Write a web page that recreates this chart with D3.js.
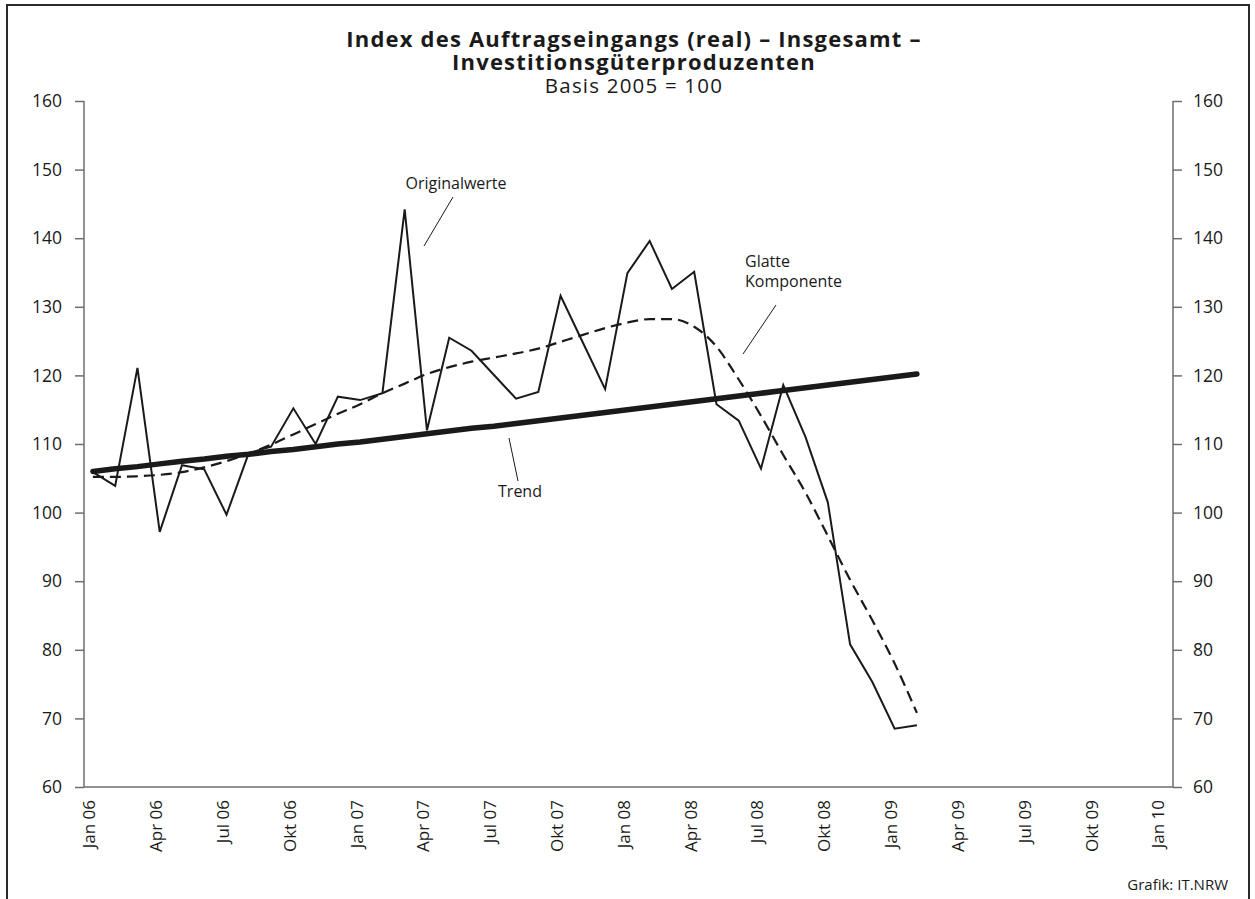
<!DOCTYPE html>
<html>
<head>
<meta charset="utf-8">
<script src="https://cdn.jsdelivr.net/npm/d3@7"></script>
<style>
  body { margin: 0; background: #fff; }
  text { font-family: "Open Sans", "Noto Sans", sans-serif; fill: #1a1a1a; }
  .axis path, .axis line { stroke: #6e6e6e; stroke-width: 1.5; }
</style>
</head>
<body>
<svg width="1255" height="899"></svg>
<script>
// month index 0 = Jan 06 ... 37 = Feb 09
const months = ["Jan 06","Feb 06","Mrz 06","Apr 06","Mai 06","Jun 06","Jul 06","Aug 06","Sep 06","Okt 06","Nov 06","Dez 06",
                "Jan 07","Feb 07","Mrz 07","Apr 07","Mai 07","Jun 07","Jul 07","Aug 07","Sep 07","Okt 07","Nov 07","Dez 07",
                "Jan 08","Feb 08","Mrz 08","Apr 08","Mai 08","Jun 08","Jul 08","Aug 08","Sep 08","Okt 08","Nov 08","Dez 08",
                "Jan 09","Feb 09"]

const originalwerte = [105.9,103.9,121.1,97.2,106.9,106.3,99.7,108.7,109.6,115.2,110.0,116.9,
                       116.4,117.4,144.2,112.0,125.5,123.6,120.1,116.6,117.6,131.6,124.8,118.0,
                       134.9,139.6,132.6,135.1,115.8,113.4,106.4,118.6,111.0,101.5,80.8,75.3,
                       68.5,69.0]

const glatteKomponente = [105.2,105.2,105.3,105.5,105.9,106.6,107.5,108.6,109.9,111.4,112.9,114.4,
                          115.8,117.4,118.8,120.2,121.2,122.0,122.6,123.2,123.9,124.9,125.9,126.9,
                          127.7,128.2,128.2,127.1,124.2,119.4,114.1,108.4,102.9,96.6,90.2,84.3,
                          78.0,70.8]

const trend = [106.0,106.4,106.7,107.1,107.5,107.8,108.2,108.5,108.9,109.2,109.6,110.0,
               110.3,110.7,111.1,111.5,111.9,112.3,112.6,113.0,113.4,113.8,114.2,114.6,
               115.0,115.4,115.8,116.2,116.6,117.0,117.4,117.8,118.2,118.6,119.0,119.4,
               119.8,120.2]

// quarterly tick labels, every 3 months from Jan 06 to Jan 10
const tickLabels = ["Jan 06","Apr 06","Jul 06","Okt 06","Jan 07","Apr 07","Jul 07","Okt 07",
                    "Jan 08","Apr 08","Jul 08","Okt 08","Jan 09","Apr 09","Jul 09","Okt 09","Jan 10"]
const yTicks = [60,70,80,90,100,110,120,130,140,150,160]

const svg = d3.select("svg")

const x = d3.scaleLinear().domain([-0.4, 48.5]).range([84, 1173]),
      y = d3.scaleLinear().domain([60, 160]).range([787, 101])

// outer frame
svg.append("rect").attr("x", 7).attr("y", 5).attr("width", 1242).attr("height", 920)
  .style("fill", "none").style("stroke", "#2a2a2a").style("stroke-width", 2)

// titles
svg.append("text").attr("x", 634).attr("y", 47).attr("text-anchor", "middle")
  .style("font-size", "22px").style("font-weight", "bold").style("letter-spacing", "1.2px")
  .text("Index des Auftragseingangs (real) – Insgesamt –")
svg.append("text").attr("x", 634).attr("y", 70).attr("text-anchor", "middle")
  .style("font-size", "22px").style("font-weight", "bold").style("letter-spacing", "1.2px")
  .text("Investitionsgüterproduzenten")
svg.append("text").attr("x", 634).attr("y", 93).attr("text-anchor", "middle")
  .style("font-size", "20.5px").style("letter-spacing", "1.2px")
  .text("Basis 2005 = 100")

// axes
const yLeft = svg.append("g").attr("class", "axis")
  .attr("transform", "translate(" + x.range()[0] + ",0)")
  .call(d3.axisLeft(y).tickValues(yTicks).tickSize(9).tickPadding(13))
const yRight = svg.append("g").attr("class", "axis")
  .attr("transform", "translate(" + x.range()[1] + ",0)")
  .call(d3.axisRight(y).tickValues(yTicks).tickSize(9).tickPadding(11))
;[yLeft, yRight].forEach(a => {
  a.select(".domain").attr("d", "M0," + y(60) + "V" + y(160))
  a.selectAll("text").style("font-size", "17.5px").style("font-family", "'Open Sans', sans-serif").attr("fill", "#1a1a1a")
})

const xAxis = svg.append("g").attr("class", "axis")
  .attr("transform", "translate(0," + y(60) + ")")
  .call(d3.axisBottom(x).tickValues(tickLabels.map((d, i) => i * 3)).tickSize(0).tickFormat((d, i) => tickLabels[i]))
xAxis.select(".domain").attr("d", "M" + x.range()[0] + ",0H" + x.range()[1])
xAxis.selectAll("text")
  .attr("transform", "rotate(-90)")
  .attr("x", -13).attr("y", -4).attr("dy", "0.35em")
  .style("text-anchor", "end")
  .style("font-size", "17px").style("font-family", "'Open Sans', sans-serif").attr("fill", "#1a1a1a")

const line = d3.line().x((d, i) => x(i)).y(d => y(d))

svg.append("path").datum(trend).attr("d", line)
  .style("fill", "none").style("stroke", "#1a1a1a").style("stroke-width", 5.5).style("stroke-linecap", "round")

svg.append("path").datum(glatteKomponente).attr("d", d3.line().curve(d3.curveMonotoneX).x((d, i) => x(i)).y(d => y(d)))
  .style("fill", "none").style("stroke", "#1a1a1a").style("stroke-width", 2.2).style("stroke-dasharray", "11,6")

svg.append("path").datum(originalwerte).attr("d", line)
  .style("fill", "none").style("stroke", "#1a1a1a").style("stroke-width", 2).style("stroke-linejoin", "miter")

// annotations
const note = (t, px, py, anchor) => svg.append("text").attr("x", px).attr("y", py)
  .attr("text-anchor", anchor || "middle").style("font-size", "16px").text(t)
const leader = (x1, y1, x2, y2) => svg.append("line").attr("x1", x1).attr("y1", y1).attr("x2", x2).attr("y2", y2)
  .style("stroke", "#1a1a1a").style("stroke-width", 1)

note("Originalwerte", 456, 189)
leader(453, 197, 424, 246)
note("Trend", 520, 497)
leader(509, 438, 518, 481)
note("Glatte", 745, 267, "start")
note("Komponente", 745, 287, "start")
leader(776, 305, 743, 354)

svg.append("text").attr("x", 1228).attr("y", 890).attr("text-anchor", "end")
  .style("font-size", "15px").text("Grafik: IT.NRW")
</script>
</body>
</html>
